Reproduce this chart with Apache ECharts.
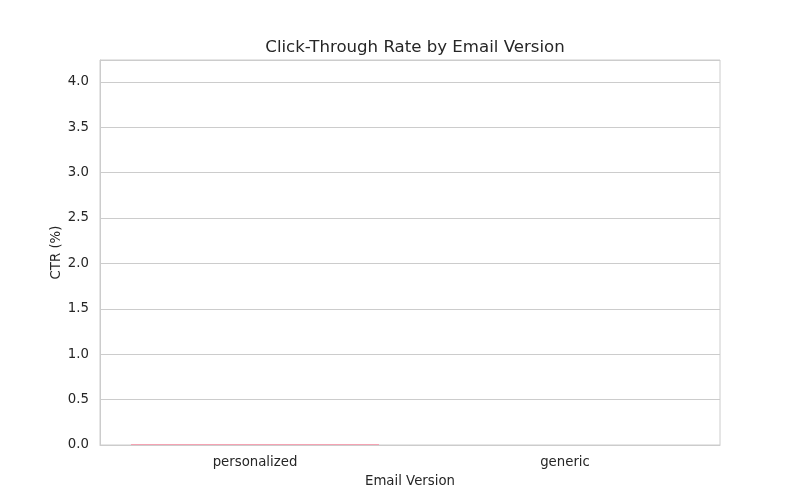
<!DOCTYPE html>
<html>
<head>
<meta charset="utf-8">
<script src="https://cdn.jsdelivr.net/npm/echarts@6/dist/echarts.min.js"></script>
<style>html,body{margin:0;padding:0;background:#fff;}#c{width:800px;height:500px;}</style>
</head>
<body>
<div id="c"></div>
<script>
const categories = ['personalized', 'generic'];
const ctrValues = [0.011, 0];
const barColors = ['#f5a3b3', '#7fb8e0'];
const yTicks = [0, 0.5, 1.0, 1.5, 2.0, 2.5, 3.0, 3.5, 4.0];

const chart = echarts.init(document.getElementById('c'), null, {renderer: 'canvas'});
const txt = '#262626';
const font = 'DejaVu Sans';
chart.setOption({
  animation: false,
  backgroundColor: '#ffffff',
  title: {
    text: 'Click-Through Rate by Email Version',
    left: 410, top: 34, textAlign: 'center',
    textStyle: {fontFamily: font, fontSize: 16.6, fontWeight: 'normal', color: txt}
  },
  grid: {left: 100, right: 80, top: 60, bottom: 55, show: true, borderColor: '#cccccc', borderWidth: 1},
  xAxis: {
    type: 'category', data: categories,
    name: 'Email Version', nameLocation: 'middle', nameGap: 30,
    nameMoveOverlap: false,
    nameTextStyle: {fontFamily: font, fontSize: 13.3, color: txt},
    axisLine: {show: true, lineStyle: {color: '#cccccc'}},
    axisTick: {show: false},
    axisLabel: {fontFamily: font, fontSize: 13.3, color: txt, margin: 11},
    splitLine: {show: false}
  },
  yAxis: {
    type: 'value', min: 0, max: 4.24, interval: 0.5,
    name: 'CTR (%)', nameLocation: 'middle', nameGap: 37,
    nameMoveOverlap: false,
    nameTextStyle: {fontFamily: font, fontSize: 13.3, color: txt, padding: [6, 0, 0, 0]},
    axisLine: {show: true, lineStyle: {color: '#cccccc'}},
    axisTick: {show: false},
    axisLabel: {
      fontFamily: font, fontSize: 13.3, color: txt, margin: 11,
      formatter: function (v) {
        const ok = yTicks.some(t => Math.abs(t - v) < 1e-9);
        return ok ? v.toFixed(1) : '';
      }
    },
    splitLine: {show: true, lineStyle: {color: '#cccccc', width: 1}}
  },
  series: [{
    type: 'bar',
    data: ctrValues.map((v, i) => ({value: v, itemStyle: {color: barColors[i]}})),
    barWidth: '80%'
  }]
});
</script>
</body>
</html>
